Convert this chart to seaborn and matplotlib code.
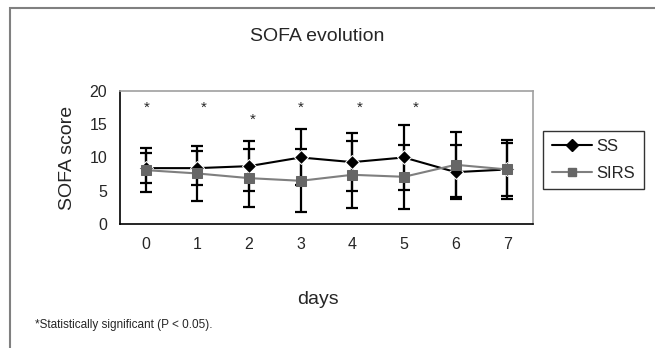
import numpy as np
import pandas as pd
import matplotlib
matplotlib.use('Agg')
import matplotlib.pyplot as plt
import seaborn as sns
from matplotlib.patches import Rectangle
from matplotlib.lines import Line2D

days = [0, 1, 2, 3, 4, 5, 6, 7]
ss_mean = [8.4, 8.4, 8.7, 10.0, 9.3, 10.0, 7.8, 8.2]
ss_err = [2.3, 2.6, 3.8, 4.2, 4.3, 4.9, 4.0, 4.0]
sirs_mean = [8.1, 7.6, 6.9, 6.5, 7.4, 7.1, 8.9, 8.2]
sirs_err = [3.3, 4.1, 4.4, 4.7, 5.0, 4.8, 4.9, 4.4]
# significance stars (as placed in the source figure)
star_x = [0.02, 1.12, 2.08, 3.0, 4.15, 5.23]
star_y = [17.4, 17.4, 15.6, 17.4, 17.4, 17.4]

sns.set_style('white')
plt.rcParams['font.family'] = ['Liberation Sans', 'DejaVu Sans']

df = pd.DataFrame({
    'days': days * 2,
    'score': ss_mean + sirs_mean,
    'group': ['SS'] * len(days) + ['SIRS'] * len(days),
})

fig = plt.figure(figsize=(6.55, 3.48), dpi=100)
ax = fig.add_axes([0.183, 0.356, 0.631, 0.383])

# error bars (both black, Excel style)
ax.errorbar(days, ss_mean, yerr=ss_err, fmt='none', ecolor='black',
            elinewidth=1.6, capsize=4, capthick=1.6, zorder=2)
ax.errorbar(days, sirs_mean, yerr=sirs_err, fmt='none', ecolor='black',
            elinewidth=1.6, capsize=4, capthick=1.6, zorder=2)

sns.lineplot(data=df, x='days', y='score', hue='group', style='group',
             palette={'SS': 'black', 'SIRS': '#7f7f7f'},
             markers={'SS': 'D', 'SIRS': 's'}, dashes=False,
             markersize=7, linewidth=1.5, ax=ax, legend=False, zorder=3)
# SIRS markers a bit darker than the line
for ln in ax.lines:
    if ln.get_color() == '#7f7f7f':
        ln.set_markerfacecolor('#666666')
        ln.set_markeredgecolor('#666666')

for x, y in zip(star_x, star_y):
    ax.text(x, y, '*', ha='center', va='center', fontsize=11)

ax.set_xlim(-0.5, 7.5)
ax.set_ylim(0, 20)
ax.set_yticks([0, 5, 10, 15, 20])
ax.set_xticks(days)
ax.set_xticks(np.arange(-0.5, 8, 1), minor=True)
ax.tick_params(axis='x', which='major', length=0, pad=9, labelsize=11.5)
ax.tick_params(axis='x', which='minor', length=6, width=1, color='black', direction='out')
ax.tick_params(axis='y', length=5, width=1, color='black', direction='out', labelsize=11.5, pad=4)
ax.set_xlabel('')
ax.set_ylabel('SOFA score', fontsize=14, labelpad=10)
for side in ['left', 'bottom']:
    ax.spines[side].set_color('black')
    ax.spines[side].set_linewidth(1.2)
for side in ['top', 'right']:
    ax.spines[side].set_color('#a0a0a0')
    ax.spines[side].set_linewidth(1.2)

# legend box
handles = [Line2D([], [], color='black', marker='D', markersize=6, lw=1.5),
           Line2D([], [], color='#7f7f7f', marker='s', markersize=6, lw=1.5,
                  markerfacecolor='#666666', markeredgecolor='#666666')]
leg = fig.legend(handles, ['SS', 'SIRS'], loc='center',
                 bbox_to_anchor=(0.906, 0.54), fontsize=12, frameon=True,
                 fancybox=False, edgecolor='black', handlelength=2.4,
                 handletextpad=0.3, borderpad=0.5, labelspacing=0.7)
leg.get_frame().set_linewidth(1)

fig.text(0.484, 0.894, 'SOFA evolution', ha='center', va='center', fontsize=14)
fig.text(0.486, 0.138, 'days', ha='center', va='center', fontsize=14)
fig.text(0.053, 0.066, '*Statistically significant (P < 0.05).', ha='left',
         va='center', fontsize=8.5)

# outer chart frame (left and top edges visible)
fig.patches.append(Rectangle((10 / 655, -0.1), 1.2, 1.077, transform=fig.transFigure,
                             fill=False, edgecolor='#808080', linewidth=1.5))

fig.savefig('out.png', dpi=100)
